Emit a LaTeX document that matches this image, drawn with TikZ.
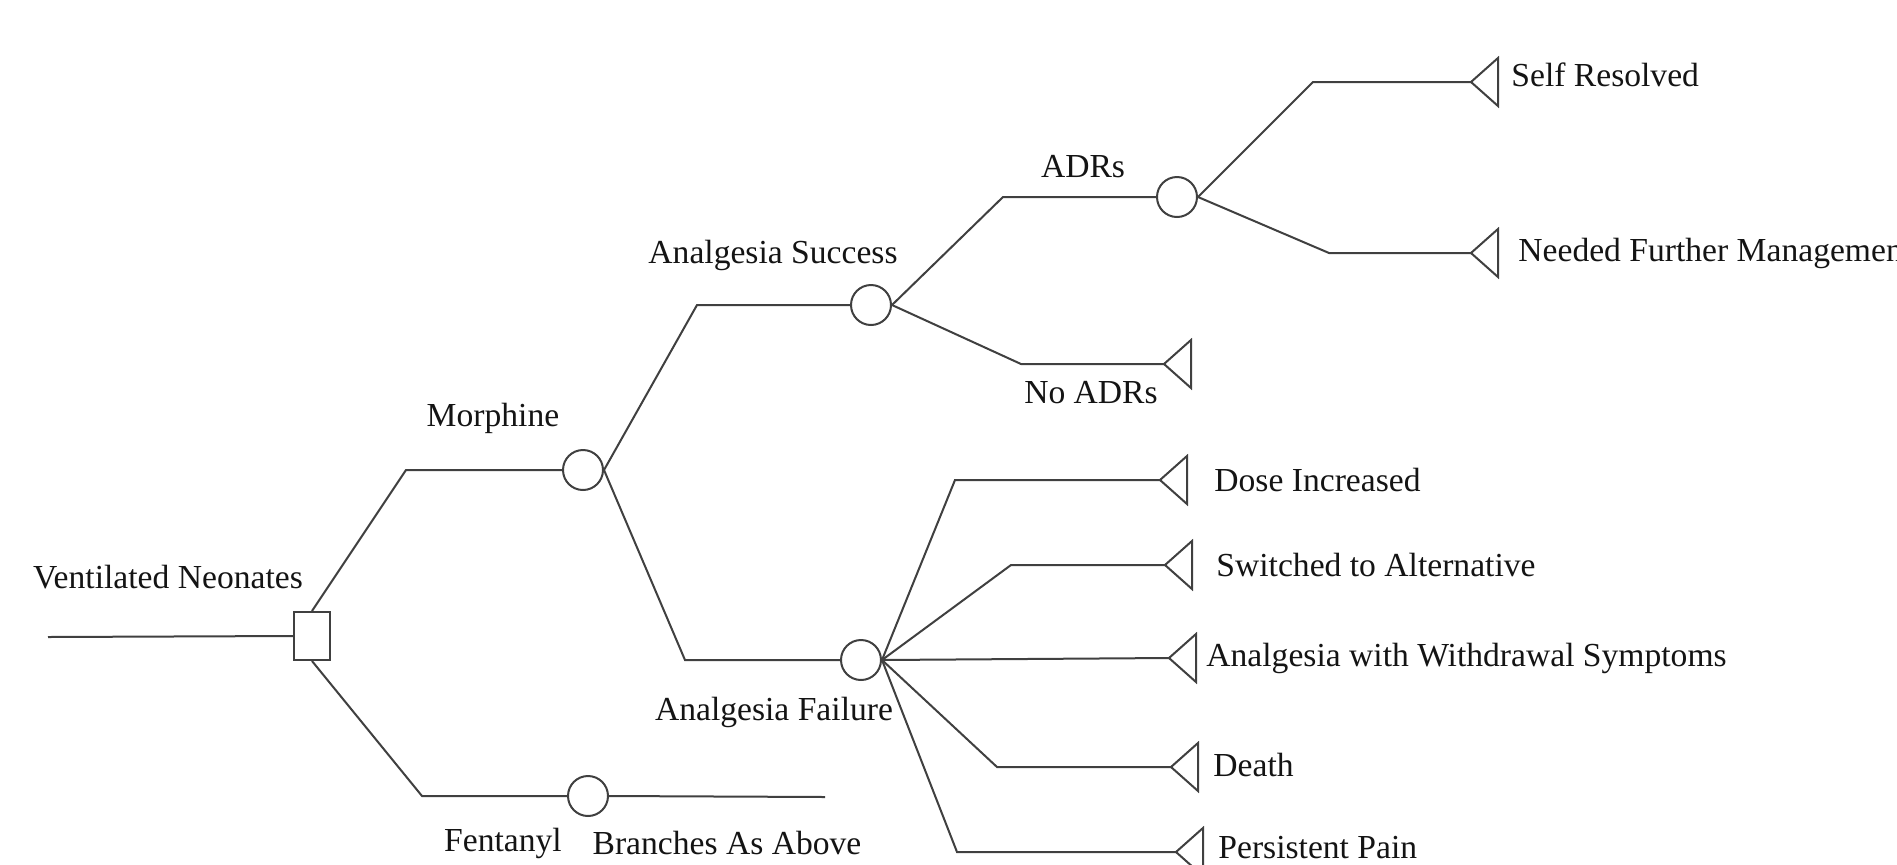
\documentclass[tikz,border=0pt]{standalone}
\usepackage{fontspec}
\setmainfont{Liberation Serif}
\begin{document}
\begin{tikzpicture}[x=0.5pt,y=-0.5pt,
  ln/.style={draw=black!75, line width=1pt},
  chance/.style={circle, draw=black!75, line width=1pt, minimum size=20pt, inner sep=0pt},
  decision/.style={rectangle, draw=black!75, line width=1pt, minimum width=18pt, minimum height=24pt, inner sep=0pt},
  lbl/.style={inner sep=0pt, font=\fontsize{16.8}{19}\selectfont, text=black!92},
  term/.pic={\draw[draw=black!75, line width=1pt, line join=miter] (0,0) -- (27,-24) -- (27,24) -- cycle;}
]
\useasboundingbox (0,0) rectangle (1897,864);
\clip (0,0) rectangle (1897,864);
\fill[white] (0,0) rectangle (1897,864);

% nodes
\coordinate (start) at (48,637);
\node[decision] (dec) at (312,636) {};
\node[chance] (mor) at (583,470) {};
\node[chance] (fen) at (588,796) {};
\coordinate (fenend) at (825,797);
\node[chance] (suc) at (871,305) {};
\node[chance] (fail) at (861,660) {};
\node[chance] (adr) at (1177,197) {};

% terminal tips
\coordinate (tnoadr) at (1164,364);
\coordinate (tself) at (1471,82);
\coordinate (tneed) at (1471,253);
\coordinate (tdose) at (1160,480);
\coordinate (tswitch) at (1165,565);
\coordinate (twith) at (1169,658);
\coordinate (tdeath) at (1171,767);
\coordinate (tpain) at (1176,852);
\foreach \t in {tnoadr,tself,tneed,tdose,tswitch,twith,tdeath,tpain}{
  \pic at (\t) {term};
}

% connectors
\draw[ln] (start) -- (dec.west);
\draw[ln] (dec.north) -- (406,470) -- (mor);
\draw[ln] (dec.south) -- (422,796) -- (fen);
\draw[ln] (fen.east) -- (fenend);
\draw[ln] (mor.east) -- (697,305) -- (suc);
\draw[ln] (mor.east) -- (685,660) -- (fail);
\draw[ln] (suc.east) -- (1003,197) -- (adr);
\draw[ln] (suc.east) -- (1021,364) -- (tnoadr);
\draw[ln] (adr.east) -- (1313,82) -- (tself);
\draw[ln] (adr.east) -- (1329,253) -- (tneed);
\draw[ln] (fail.east) -- (955,480) -- (tdose);
\draw[ln] (fail.east) -- (1011,565) -- (tswitch);
\draw[ln] (fail.east) -- (twith);
\draw[ln] (fail.east) -- (997,767) -- (tdeath);
\draw[ln] (fail.east) -- (957,852) -- (tpain);

% labels
\node[lbl] (lvent) at (168,577) {Ventilated Neonates};
\node[lbl] (lmor) at (493,418) {Morphine};
\node[lbl] (lfen) at (503,843) {Fentanyl};
\node[lbl] (lbranch) at (727,843) {Branches As Above};
\node[lbl] (lsuc) at (773,255) {Analgesia Success};
\node[lbl] (lfail) at (774,712) {Analgesia Failure};
\node[lbl] (ladr) at (1083,167) {ADRs};
\node[lbl] (lnoadr) at (1091,393) {No ADRs};
\node[lbl, anchor=west] (lself) at (1511,75) {Self Resolved};
\node[lbl, anchor=west] (lneed) at (1518,253) {Needed Further Management};
\node[lbl, anchor=west] (ldose) at (1214,480) {Dose Increased};
\node[lbl, anchor=west] (lswitch) at (1216,565) {Switched to Alternative};
\node[lbl, anchor=west] (lwith) at (1206,658) {Analgesia with Withdrawal Symptoms};
\node[lbl, anchor=west] (ldeath) at (1213,765) {Death};
\node[lbl, anchor=west] (lpain) at (1218,848) {Persistent Pain};
\end{tikzpicture}
\end{document}
